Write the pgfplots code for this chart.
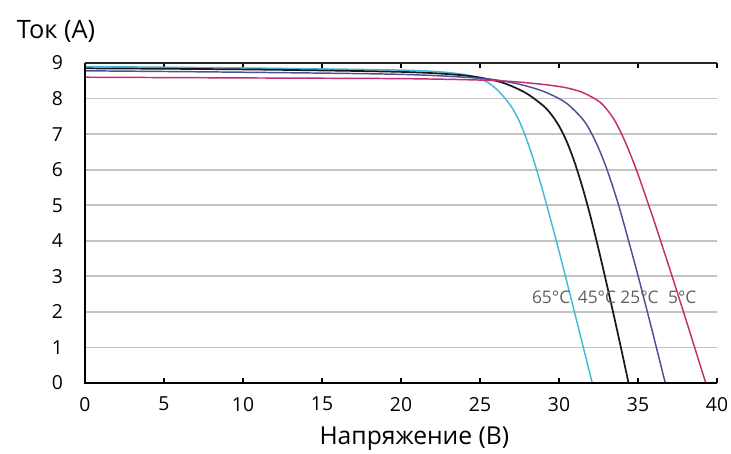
\documentclass[border=0pt]{standalone}
\usepackage{fontspec}
\setmainfont{Open Sans}
\usepackage{pgfplots}
\pgfplotsset{compat=1.18}
\definecolor{c65}{RGB}{70,185,215}
\definecolor{c45}{RGB}{25,25,30}
\definecolor{c25}{RGB}{80,78,150}
\definecolor{c5}{RGB}{195,45,115}
\definecolor{gridgray}{RGB}{195,195,195}
\definecolor{labgray}{RGB}{95,95,95}
\begin{document}
\begin{tikzpicture}
\begin{axis}[
 scale only axis,
 width=474pt,height=240pt,
 xmin=0,xmax=40,ymin=0,ymax=9,
 xtick={0,5,...,40},ytick={0,1,...,9},
 /pgf/number format/assume math mode=true,
 tick label style={font=\fontsize{14.5}{16}\selectfont},
 xticklabel style={yshift=-7pt},
 yticklabel style={xshift=-13pt},
 axis line style={draw=none},
 tick align=inside,
 xtick style={black,line width=1pt},
 major tick length=4pt,
 ytick style={draw=none},
 ymajorgrids,
 grid style={gridgray,line width=1.4pt},
 xlabel={Напряжение (В)},
 xlabel style={font=\fontsize{18.5}{20}\selectfont,yshift=-5pt,xshift=10pt},
 ylabel={Ток (А)},
 ylabel style={font=\fontsize{19}{21}\selectfont,rotate=-90,at={(rel axis cs:-0.046,1.1)},anchor=center},
 clip=false,
]
\addplot[c65,line width=1.1pt,smooth,tension=0.5] coordinates {
 (0,8.9) (10,8.86) (20,8.8) (23,8.73) (24.5,8.63) (25.5,8.45) (26,8.28) (26.5,8.05) (27,7.76) (27.5,7.35) (28,6.79) (28.5,6.12) (29,5.36) (29.5,4.55) (30,3.71) (30.5,2.84) (31,1.96) (31.5,1.07) (32.1,0)};
\addplot[c45,line width=1.3pt,smooth,tension=0.5] coordinates {
 (0,8.85) (10,8.82) (20,8.75) (24,8.65) (26,8.5) (27,8.35) (28,8.13) (29,7.8) (29.5,7.56) (30,7.23) (30.5,6.78) (31,6.19) (31.5,5.48) (32,4.67) (32.5,3.77) (33,2.82) (33.5,1.84) (34,0.83) (34.4,0)};
\addplot[c25,line width=1.1pt,smooth,tension=0.5] coordinates {
 (0,8.78) (10,8.74) (20,8.68) (25,8.57) (27,8.45) (28.5,8.28) (29.5,8.11) (30.5,7.86) (31.5,7.42) (32,7.07) (32.5,6.61) (33,6.05) (33.5,5.39) (34,4.65) (35,3.02) (36,1.29) (36.5,0.4) (36.73,0)};
\addplot[c5,line width=1.1pt,smooth,tension=0.5] coordinates {
 (0,8.6) (10,8.58) (20,8.56) (25,8.52) (27,8.48) (28.5,8.42) (29.5,8.37) (30.5,8.3) (31.5,8.17) (32.5,7.93) (33,7.71) (33.5,7.4) (34,6.97) (34.5,6.45) (35,5.87) (36,4.58) (37,3.22) (38,1.83) (39,0.41) (39.29,0)};
\draw[black,line width=2pt] (rel axis cs:0,1) -- (rel axis cs:0,0) -- (rel axis cs:1,0);
\draw[black!85,line width=2pt] (rel axis cs:0,1) -- (rel axis cs:1,1);
\begin{scope}[every node/.style={labgray,font=\fontsize{13}{15}\selectfont,inner sep=0pt}]
\node at (axis cs:29.5,2.4) {65°C};
\node at (axis cs:32.4,2.4) {45°C};
\node at (axis cs:35.1,2.4) {25°C};
\node at (axis cs:37.8,2.4) {5°C};
\end{scope}
\end{axis}
\pgfresetboundingbox
\path[use as bounding box] ([xshift=-63.75pt,yshift=-53.25pt]current axis.south west) rectangle ([xshift=10.5pt,yshift=47.25pt]current axis.north east);
\end{tikzpicture}
\end{document}
